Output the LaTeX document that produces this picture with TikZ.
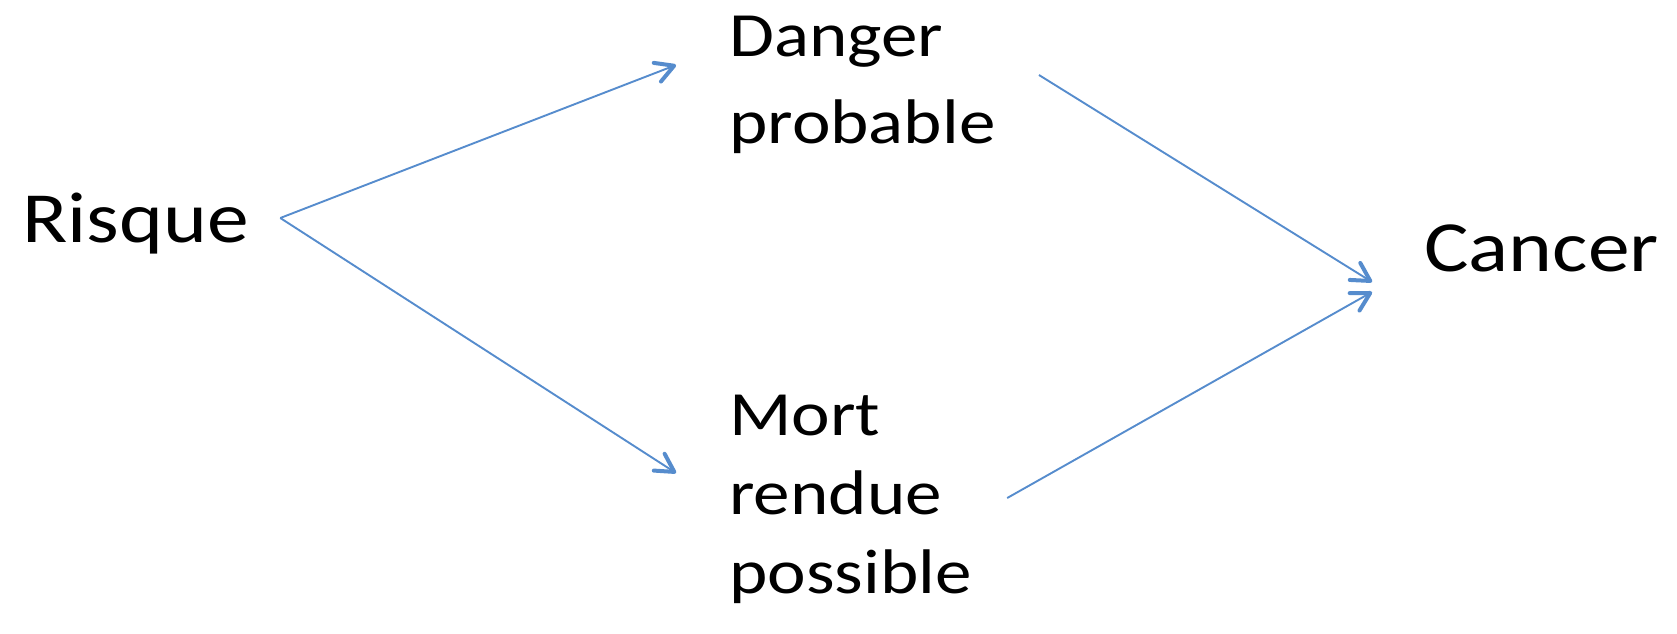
\documentclass[tikz,border=0pt]{standalone}
\usepackage{fontspec}
\setmainfont{Carlito}[FakeStretch=1.16]
\usetikzlibrary{arrows.meta}
\definecolor{flowblue}{RGB}{86,140,205}
\begin{document}
\begin{tikzpicture}[x=0.5pt,y=-0.5pt,
		big/.style={inner sep=0pt,anchor=base west,font=\fontsize{36}{42}\selectfont},
		mid/.style={inner sep=0pt,anchor=base west,align=left},
		flow/.style={flowblue,line width=0.95pt,-{Straight Barb[length=9pt,width=10pt,line width=2pt,round]}}]
	\useasboundingbox (0,0) rectangle (1677,633);
	
	\node[big] (risque) at (22,242) {Risque};
	\node[mid,font=\fontsize{31.5}{43.5}\selectfont] (danger) at (729,143) {Danger\\probable};
	\node[mid,font=\fontsize{31.5}{39.5}\selectfont] (mort) at (729,593) {Mort\\rendue\\possible};
	\node[big] (cancer) at (1424,271) {Cancer};
	
	\draw[flow] ([shift={(31,-24)}]risque.base east) -- ([shift={(-53,-78)}]danger.base west);
	\draw[flow] ([shift={(31,-24)}]risque.base east) -- ([shift={(-53,-120)}]mort.base west);
	\draw[flow] ([shift={(43,-68)}]danger.base east) -- ([shift={(-52,11)}]cancer.base west);
	\draw[flow] ([shift={(35,-95)}]mort.base east) -- ([shift={(-52,21)}]cancer.base west);
\end{tikzpicture}
\end{document}
